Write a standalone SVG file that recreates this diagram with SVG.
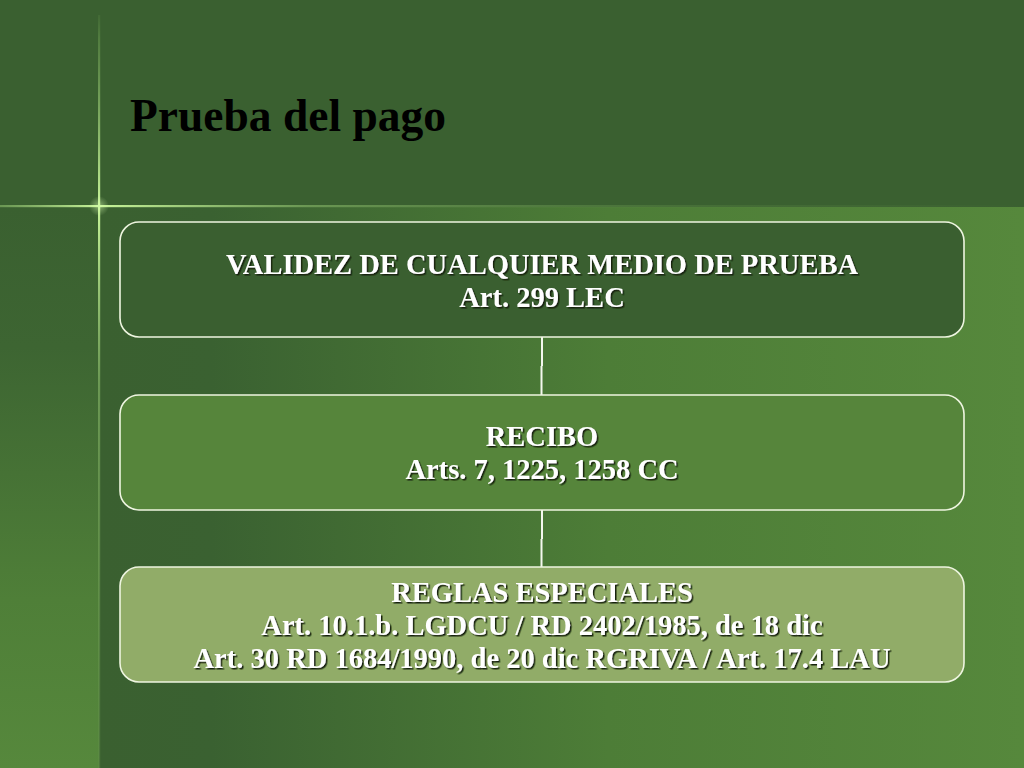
<svg xmlns="http://www.w3.org/2000/svg" width="1024" height="768" viewBox="0 0 1024 768">
  <defs>
    <linearGradient id="mainBg" x1="100" y1="0" x2="1024" y2="0" gradientUnits="userSpaceOnUse">
      <stop offset="0" stop-color="#3a6030"/>
      <stop offset="0.12" stop-color="#3a6131"/>
      <stop offset="0.55" stop-color="#4d7d37"/>
      <stop offset="1" stop-color="#56883c"/>
    </linearGradient>
    <linearGradient id="leftBg" x1="0" y1="207" x2="0" y2="768" gradientUnits="userSpaceOnUse">
      <stop offset="0" stop-color="#3a6030"/>
      <stop offset="0.25" stop-color="#3d6532"/>
      <stop offset="0.7" stop-color="#4f7f38"/>
      <stop offset="1" stop-color="#56883c"/>
    </linearGradient>
    <linearGradient id="hLine" x1="0" y1="0" x2="1024" y2="0" gradientUnits="userSpaceOnUse">
      <stop offset="0" stop-color="#7fae62" stop-opacity="0.7"/>
      <stop offset="0.097" stop-color="#c8f59a" stop-opacity="1"/>
      <stop offset="0.3" stop-color="#7fae62" stop-opacity="0.7"/>
      <stop offset="0.7" stop-color="#5e8c46" stop-opacity="0.3"/>
      <stop offset="1" stop-color="#5e8c46" stop-opacity="0"/>
    </linearGradient>
    <linearGradient id="vLine" x1="0" y1="0" x2="0" y2="768" gradientUnits="userSpaceOnUse">
      <stop offset="0" stop-color="#5e8c46" stop-opacity="0"/>
      <stop offset="0.05" stop-color="#6a9a50" stop-opacity="0.5"/>
      <stop offset="0.268" stop-color="#c8f59a" stop-opacity="1"/>
      <stop offset="0.5" stop-color="#7fae62" stop-opacity="0.7"/>
      <stop offset="1" stop-color="#5e8c46" stop-opacity="0.5"/>
    </linearGradient>
    <radialGradient id="glow" cx="99" cy="206" r="10" gradientUnits="userSpaceOnUse">
      <stop offset="0" stop-color="#d8ffb0" stop-opacity="0.5"/>
      <stop offset="1" stop-color="#d8ffb0" stop-opacity="0"/>
    </radialGradient>
    <filter id="shadow" x="-5%" y="-20%" width="110%" height="140%">
      <feDropShadow dx="1.5" dy="1.5" stdDeviation="0.3" flood-color="#16240f" flood-opacity="1"/>
    </filter>
  </defs>
  <style>
    .box { stroke: #eef5e0; stroke-width: 1.6; }
    .lbl { font-family: "Liberation Serif", "Times New Roman", serif; font-weight: bold; font-size: 28.5px; fill: #ffffff; text-anchor: middle; filter: url(#shadow); }
    .title { font-family: "Liberation Serif", "Times New Roman", serif; font-weight: bold; font-size: 45.5px; fill: #000000; }
    .conn { stroke: #f4f8ee; stroke-width: 2; fill: none; }
  </style>

  <!-- background -->
  <rect x="0" y="0" width="1024" height="768" fill="#3a6030"/>
  <rect x="100" y="207" width="924" height="561" fill="url(#mainBg)"/>
  <rect x="0" y="207" width="99" height="561" fill="url(#leftBg)"/>
  <rect x="98" y="15" width="2.2" height="753" fill="url(#vLine)"/>
  <rect x="0" y="205" width="1024" height="2.2" fill="url(#hLine)"/>
  <circle cx="99" cy="206" r="10" fill="url(#glow)"/>

  <text class="title" x="130" y="131">Prueba del pago</text>

  <g id="connectors">
    <path class="conn" d="M542,337 V366 M541.5,366 V395"/>
    <path class="conn" d="M542,510 V539 M541.5,539 V567"/>
  </g>

  <g id="node1">
    <rect class="box" x="120" y="222" width="844" height="115" rx="19" fill="#3a5f30"/>
    <text class="lbl" x="542" y="274">VALIDEZ DE CUALQUIER MEDIO DE PRUEBA</text>
    <text class="lbl" x="542" y="307">Art. 299 LEC</text>
  </g>

  <g id="node2">
    <rect class="box" x="120" y="395" width="844" height="115" rx="19" fill="#56853b"/>
    <text class="lbl" x="542" y="446">RECIBO</text>
    <text class="lbl" x="542" y="479">Arts. 7, 1225, 1258 CC</text>
  </g>

  <g id="node3">
    <rect class="box" x="120" y="567" width="844" height="115" rx="19" fill="#91ac68"/>
    <text class="lbl" x="542" y="602">REGLAS ESPECIALES</text>
    <text class="lbl" x="542" y="635">Art. 10.1.b. LGDCU / RD 2402/1985, de 18 dic</text>
    <text class="lbl" x="542" y="668">Art. 30 RD 1684/1990, de 20 dic RGRIVA / Art. 17.4 LAU</text>
  </g>
</svg>
